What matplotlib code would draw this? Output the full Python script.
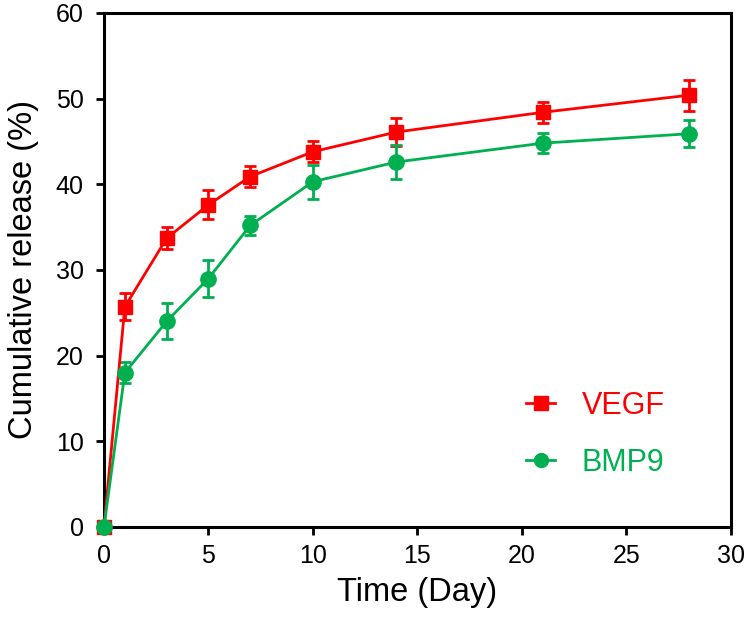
import numpy as np
import matplotlib.pyplot as plt
from matplotlib.lines import Line2D

plt.rcParams['font.family'] = ['Liberation Sans', 'DejaVu Sans']

days = [0, 1, 3, 5, 7, 10, 14, 21, 28]

vegf = [0, 25.7, 33.7, 37.6, 40.9, 43.8, 46.1, 48.4, 50.4]
vegf_err = [0, 1.6, 1.3, 1.7, 1.2, 1.2, 1.6, 1.25, 1.8]

bmp9 = [0, 18.0, 24.0, 29.0, 35.2, 40.3, 42.6, 44.8, 45.9]
bmp9_err = [0, 1.2, 2.1, 2.2, 1.1, 2.0, 2.0, 1.2, 1.6]

red = '#ff0000'
green = '#00b050'

fig = plt.figure(figsize=(7.48, 6.17), dpi=100)
ax = fig.add_axes([0.139, 0.146, 0.838, 0.833])

for y, err, c, m, ms in [(vegf, vegf_err, red, 's', 10.5),
                         (bmp9, bmp9_err, green, 'o', 11)]:
    eb = ax.errorbar(days, y, yerr=err, color=c, marker=m, markersize=ms,
                     linewidth=2, elinewidth=2, capsize=4.5, capthick=2,
                     zorder=3)
    for art in eb.lines[:1] + tuple(eb.lines[1]) + tuple(eb.lines[2]):
        art.set_clip_on(False)

ax.set_xlim(0, 30)
ax.set_ylim(0, 60)
ax.set_xticks(range(0, 31, 5))
ax.set_yticks(range(0, 61, 10))

for s in ax.spines.values():
    s.set_linewidth(2.2)
ax.tick_params(direction='out', length=5.5, width=2, labelsize=18, pad=7)
ax.tick_params(axis='y', pad=9)

ax.set_xlabel('Time (Day)', fontsize=23.5, labelpad=6)
ax.set_ylabel('Cumulative release (%)', fontsize=23.5, labelpad=12)

handles = [Line2D([], [], color=red, marker='s', markersize=9.5, linewidth=2),
           Line2D([], [], color=green, marker='o', markersize=10, linewidth=2)]
leg = ax.legend(handles, ['VEGF', 'BMP9'], loc='center left',
                bbox_to_anchor=(0.63, 0.18), frameon=False, fontsize=22,
                handlelength=0.95, handletextpad=0.85, labelspacing=0.9)
for t, c in zip(leg.get_texts(), [red, green]):
    t.set_color(c)

fig.savefig('out.png', dpi=100)
